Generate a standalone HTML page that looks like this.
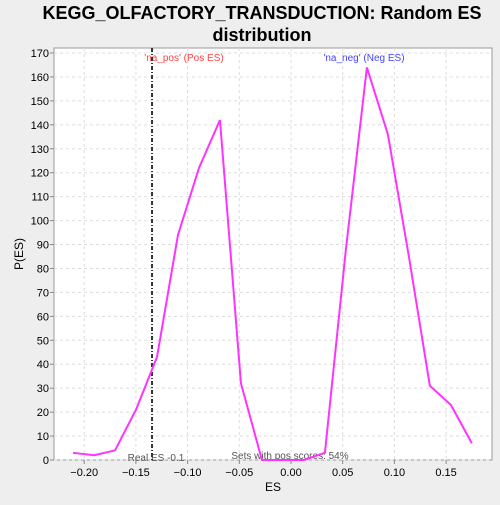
<!DOCTYPE html>
<html><head><meta charset="utf-8"><style>
body{margin:0;background:#eeeeee;font-family:"Liberation Sans","DejaVu Sans",sans-serif}
</style></head><body>
<svg width="500" height="500" xmlns="http://www.w3.org/2000/svg">
<rect width="500" height="500" fill="#eeeeee"/>
<text x="262" y="19" text-anchor="middle" font-size="18" font-weight="bold" fill="#000">KEGG_OLFACTORY_TRANSDUCTION: Random ES</text>
<text x="262" y="41" text-anchor="middle" font-size="18" font-weight="bold" fill="#000">distribution</text>
<rect x="54" y="48" width="438" height="412" fill="#fff" stroke="#999"/>
<g id="grid"></g><g id="axes"></g>
<text x="273" y="491" text-anchor="middle" font-size="12">ES</text>
<text x="23" y="254" text-anchor="middle" font-size="12" transform="rotate(-90 23 254)">P(ES)</text>
<text x="184" y="61" text-anchor="middle" font-size="10" fill="#ff4444">'na_pos' (Pos ES)</text>
<text x="364" y="61" text-anchor="middle" font-size="10" fill="#4444ff">'na_neg' (Neg ES)</text>
<text x="156" y="461" text-anchor="middle" font-size="10" fill="#555">Real ES -0.1</text>
<text x="290" y="459" text-anchor="middle" font-size="10" fill="#555">Sets with pos scores: 54%</text>
<g id="marks"></g>
</svg>
<script>
const xs=[-0.2108,-0.1905,-0.1702,-0.1499,-0.1296,-0.1093,-0.089,-0.0687,-0.0484,-0.0281,-0.0078,0.0125,0.0328,0.0531,0.0734,0.0937,0.114,0.1343,0.1546,0.1749];
const ys=[3,2,4,21,43,94,122,142,32,0,0,0,3,88,164,136,85,31,23,7];
const realES=-0.1344;
const xTicks=[-0.20,-0.15,-0.10,-0.05,0.00,0.05,0.10,0.15];
const xTickLabels=["-0.20","-0.15","-0.10","-0.05","0.00","0.05","0.10","0.15"];
const yTicks=[0,10,20,30,40,50,60,70,80,90,100,110,120,130,140,150,160,170];
const NS="http://www.w3.org/2000/svg";
const X=v=>291+v*1034, Y=v=>460-v*(407/170);
function mk(t,a,p){const e=document.createElementNS(NS,t);for(const k in a)e.setAttribute(k,a[k]);p.appendChild(e);return e;}
const g=document.getElementById('grid'),ax=document.getElementById('axes'),m=document.getElementById('marks');
xTicks.forEach((v,i)=>{
 const l=mk('line',{x1:X(v),x2:X(v),y1:48,y2:460,stroke:'#ddd','stroke-dasharray':'3,3'},g);
 
 
 const tk=mk('line',{x1:X(v),x2:X(v),y1:460,y2:464,stroke:'#888'},ax);
 
 
 const t=mk('text',{x:X(v),y:476,'text-anchor':'middle','font-size':11},ax);t.textContent=xTickLabels[i].replace('-','\u2212');
 
 
});
yTicks.forEach(v=>{
 const l=mk('line',{x1:54,x2:492,y1:Y(v),y2:Y(v),stroke:'#ddd','stroke-dasharray':'3,3'},g);
 
 
 const tk=mk('line',{x1:50,x2:54,y1:Y(v),y2:Y(v),stroke:'#888'},ax);
 
 
 const t=mk('text',{x:49,y:Y(v)+4,'text-anchor':'end','font-size':11},ax);t.textContent=v;
 
 
});
const rl=mk('line',{x1:X(realES),x2:X(realES),y1:48,y2:460,stroke:'#333','stroke-width':2,'stroke-dasharray':'4,2,1,2'},m);


const pl=mk('polyline',{points:xs.map((x,i)=>X(x)+','+Y(ys[i])).join(' '),fill:'none',stroke:'#ff33ff','stroke-width':2},m);


</script>
</body></html>
